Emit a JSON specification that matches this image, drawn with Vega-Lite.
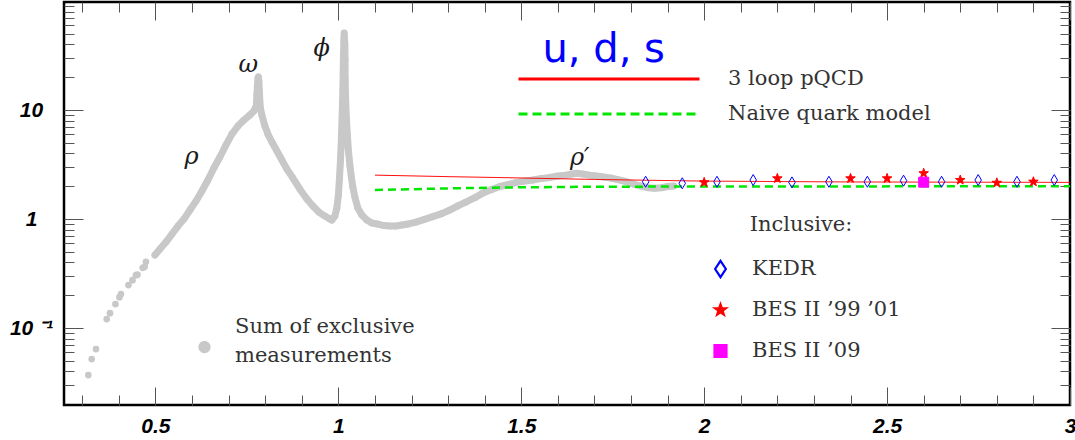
{
  "$schema": "https://vega.github.io/schema/vega-lite/v6.json",
  "width": 1006,
  "height": 403,
  "autosize": {"type": "none"},
  "padding": {"left": 64, "top": 2, "right": 5, "bottom": 35},
  "background": "white",
  "config": {
    "view": {"stroke": "black", "strokeWidth": 2.5},
    "style": {"guide-label": {"lineHeight": 29}}
  },
  "datasets": {
    "excl": [
      {"E":0.3164,"R":0.0371},{"E":0.3257,"R":0.052},{"E":0.3374,"R":0.0642},{"E":0.3667,"R":0.121},
      {"E":0.3757,"R":0.137},{"E":0.3907,"R":0.166},{"E":0.4016,"R":0.192},{"E":0.4057,"R":0.205},
      {"E":0.4262,"R":0.248},{"E":0.4372,"R":0.275},{"E":0.4467,"R":0.306},{"E":0.4508,"R":0.309},
      {"E":0.465,"R":0.357},{"E":0.4705,"R":0.365},{"E":0.474,"R":0.406},{"E":0.4986,"R":0.468},
      {"E":0.5123,"R":0.531},{"E":0.5287,"R":0.615},{"E":0.5451,"R":0.728},{"E":0.5615,"R":0.863},
      {"E":0.5779,"R":1.0},{"E":0.5943,"R":1.21},{"E":0.6107,"R":1.46},{"E":0.627,"R":1.81},
      {"E":0.6434,"R":2.28},{"E":0.6598,"R":2.94},{"E":0.6762,"R":3.71},{"E":0.6926,"R":4.77},
      {"E":0.709,"R":6.02},{"E":0.7254,"R":7.13},{"E":0.7418,"R":8.09},{"E":0.7582,"R":9.0},
      {"E":0.7691,"R":9.79},{"E":0.776,"R":11.1},{"E":0.7773,"R":13.7},{"E":0.7787,"R":16.9},
      {"E":0.7801,"R":19.7},{"E":0.7814,"R":20.1},{"E":0.7828,"R":18.1},{"E":0.7842,"R":14.6},
      {"E":0.7855,"R":11.8},{"E":0.7869,"R":10.4},{"E":0.791,"R":9.0},{"E":0.7992,"R":7.13},
      {"E":0.8074,"R":6.02},{"E":0.8183,"R":5.09},{"E":0.832,"R":4.21},{"E":0.8456,"R":3.48},
      {"E":0.8593,"R":2.87},{"E":0.8757,"R":2.38},{"E":0.8948,"R":1.88},{"E":0.9139,"R":1.53},
      {"E":0.9303,"R":1.32},{"E":0.9467,"R":1.16},{"E":0.9631,"R":1.065},{"E":0.9768,"R":1.0},
      {"E":0.9822,"R":0.979},{"E":0.9904,"R":1.065},{"E":0.9959,"R":1.26},{"E":1.0,"R":1.66},
      {"E":1.0027,"R":2.28},{"E":1.0055,"R":3.33},{"E":1.0082,"R":5.31},{"E":1.0104,"R":9.0},
      {"E":1.0123,"R":15.3},{"E":1.0137,"R":28.7},{"E":1.015,"R":43.9},{"E":1.0159,"R":50.8},
      {"E":1.0178,"R":39.5},{"E":1.0183,"R":28.7},{"E":1.0186,"R":18.8},{"E":1.0199,"R":12.4},
      {"E":1.0219,"R":8.45},{"E":1.0246,"R":5.9},{"E":1.0273,"R":4.3},{"E":1.0314,"R":3.13},
      {"E":1.0355,"R":2.43},{"E":1.0396,"R":1.97},{"E":1.0451,"R":1.59},{"E":1.0533,"R":1.26},
      {"E":1.0642,"R":1.088},{"E":1.0779,"R":0.979},{"E":1.0915,"R":0.919},{"E":1.1079,"R":0.9},
      {"E":1.1243,"R":0.872},{"E":1.1407,"R":0.863},{"E":1.1571,"R":0.863},{"E":1.1735,"R":0.881},
      {"E":1.1899,"R":0.9},{"E":1.2117,"R":0.939},{"E":1.2336,"R":0.989},{"E":1.2582,"R":1.054},
      {"E":1.2828,"R":1.123},{"E":1.3046,"R":1.21},{"E":1.3265,"R":1.32},{"E":1.3484,"R":1.43},
      {"E":1.373,"R":1.57},{"E":1.3948,"R":1.73},{"E":1.4194,"R":1.87},{"E":1.4413,"R":1.99},
      {"E":1.4631,"R":2.07},{"E":1.485,"R":2.16},{"E":1.5096,"R":2.23},{"E":1.5314,"R":2.28},
      {"E":1.5533,"R":2.35},{"E":1.5779,"R":2.41},{"E":1.5997,"R":2.48},{"E":1.6216,"R":2.53},
      {"E":1.638,"R":2.59},{"E":1.6516,"R":2.63},{"E":1.668,"R":2.59},{"E":1.6872,"R":2.53},
      {"E":1.7063,"R":2.48},{"E":1.7254,"R":2.43},{"E":1.7445,"R":2.38},{"E":1.7637,"R":2.3},
      {"E":1.7855,"R":2.21},{"E":1.8074,"R":2.09},{"E":1.8265,"R":2.01},{"E":1.8456,"R":1.94},
      {"E":1.8648,"R":1.92},{"E":1.8839,"R":1.94},{"E":1.9003,"R":1.99},{"E":1.9167,"R":2.01}
    ],
    "theory": [
      {"model":"3 loop pQCD","E":1.1,"R":2.53},{"model":"3 loop pQCD","E":1.3,"R":2.45},
      {"model":"3 loop pQCD","E":1.45,"R":2.4},{"model":"3 loop pQCD","E":1.7,"R":2.31},
      {"model":"3 loop pQCD","E":2.0,"R":2.23},{"model":"3 loop pQCD","E":2.4,"R":2.19},
      {"model":"3 loop pQCD","E":3.0,"R":2.17},
      {"model":"Naive quark model","E":1.1,"R":1.85},{"model":"Naive quark model","E":1.3,"R":1.91},
      {"model":"Naive quark model","E":1.45,"R":1.95},{"model":"Naive quark model","E":1.7,"R":1.98},
      {"model":"Naive quark model","E":2.0,"R":1.99},{"model":"Naive quark model","E":3.0,"R":2.0}
    ],
    "incl": [
      {"exp":"KEDR","E":1.84,"R":2.2},{"exp":"KEDR","E":1.94,"R":2.13},{"exp":"KEDR","E":2.035,"R":2.2},
      {"exp":"KEDR","E":2.134,"R":2.28},{"exp":"KEDR","E":2.24,"R":2.17},{"exp":"KEDR","E":2.341,"R":2.2},
      {"exp":"KEDR","E":2.446,"R":2.2},{"exp":"KEDR","E":2.545,"R":2.25},{"exp":"KEDR","E":2.649,"R":2.2},
      {"exp":"KEDR","E":2.749,"R":2.28},{"exp":"KEDR","E":2.855,"R":2.2},{"exp":"KEDR","E":2.957,"R":2.28},
      {"exp":"BES II ’99 ’01","E":2.0,"R":2.17},{"exp":"BES II ’99 ’01","E":2.2,"R":2.36},
      {"exp":"BES II ’99 ’01","E":2.4,"R":2.36},{"exp":"BES II ’99 ’01","E":2.5,"R":2.36},
      {"exp":"BES II ’99 ’01","E":2.6,"R":2.63},{"exp":"BES II ’99 ’01","E":2.7,"R":2.28},
      {"exp":"BES II ’99 ’01","E":2.8,"R":2.15},{"exp":"BES II ’99 ’01","E":2.9,"R":2.2},
      {"exp":"BES II ’09","E":2.6,"R":2.18}
    ],
    "greek": [
      {"label":"ρ","E":0.5989,"R":3.73},
      {"label":"ω","E":0.7536,"R":25.9},
      {"label":"ϕ","E":0.9541,"R":36.0},
      {"label":"ρ′","E":1.6598,"R":3.63}
    ]
  },
  "resolve": {
    "scale": {"fill": "independent", "stroke": "independent", "shape": "independent", "strokeDash": "independent", "strokeWidth": "independent"},
    "axis": {"x": "independent", "y": "independent"}
  },
  "layer": [
    {
      "data": {"name": "excl"},
      "transform": [{"filter": "datum.E >= 0.49"}],
      "mark": {"type": "line", "stroke": "#c8c8c8", "strokeWidth": 7, "strokeJoin": "round", "strokeCap": "round"},
      "encoding": {
        "x": {"field": "E", "type": "quantitative", "scale": {"type": "linear", "domain": [0.25, 3.0], "nice": false, "zero": false},
          "axis": {"orient": "bottom", "values": [0.5, 1, 1.5, 2, 2.5, 3], "format": "~g", "ticks": false, "tickSize": 0, "domain": false, "grid": false, "title": null,
            "labelFont": "Liberation Sans", "labelFontSize": 21, "labelFontWeight": "bold", "labelFontStyle": "italic", "labelColor": "#000", "labelPadding": 10, "labelFlush": false, "labelOverlap": false}},
        "y": {"field": "R", "type": "quantitative", "scale": {"type": "log", "domain": [0.0197, 98], "nice": false, "zero": false},
          "axis": {"orient": "left", "values": [0.1, 1, 10], "labelExpr": "datum.value == 0.1 ? '10 ⁻¹' : datum.value == 1 ? '1' : '10'", "ticks": false, "tickSize": 0, "domain": false, "grid": false, "title": null,
            "labelFont": "Liberation Sans", "labelFontSize": 21, "labelFontWeight": "bold", "labelFontStyle": "italic", "labelColor": "#000", "labelAlign": "center", "labelBaseline": "middle", "labelPadding": 33, "labelFlush": false, "labelOverlap": false}}
      }
    },
    {
      "data": {"name": "excl"},
      "mark": {"type": "circle", "size": 45, "opacity": 1},
      "encoding": {
        "x": {"field": "E", "type": "quantitative",
          "axis": {"orient": "bottom", "values": [0.5, 1, 1.5, 2, 2.5, 3], "labels": false, "domain": false, "grid": false, "title": null, "tickSize": -18, "tickColor": "#555", "tickWidth": 1}},
        "y": {"field": "R", "type": "quantitative",
          "axis": {"orient": "left", "values": [0.1, 1, 10], "labels": false, "domain": false, "grid": false, "title": null, "tickSize": -19, "tickColor": "#555", "tickWidth": 1}},
        "fill": {"datum": "Sum of exclusive measurements", "type": "nominal", "scale": {"range": ["#c8c8c8"]},
          "legend": {"orient": "none", "legendX": 130, "legendY": 315, "title": null, "padding": 0, "symbolType": "M-1,3.27A1,1 0 1,0 1,3.27A1,1 0 1,0 -1,3.27Z", "symbolSize": 150, "symbolStrokeWidth": 0, "clipHeight": 20,
            "labelExpr": "['Sum of exclusive', 'measurements']", "labelFont": "DejaVu Serif", "labelFontSize": 21, "labelColor": "#333", "labelOffset": 20, "labelLimit": 400}}
      }
    },
    {
      "data": {"name": "theory"},
      "mark": {"type": "line"},
      "encoding": {
        "x": {"field": "E", "type": "quantitative",
          "axis": {"orient": "bottom", "values": [0.3,0.4,0.6,0.7,0.8,0.9,1.1,1.2,1.3,1.4,1.6,1.7,1.8,1.9,2.1,2.2,2.3,2.4,2.6,2.7,2.8,2.9], "labels": false, "domain": false, "grid": false, "title": null, "tickSize": -10, "tickColor": "#555", "tickWidth": 1}},
        "y": {"field": "R", "type": "quantitative",
          "axis": {"orient": "left", "values": [0.03,0.04,0.05,0.06,0.07,0.08,0.09,0.2,0.3,0.4,0.5,0.6,0.7,0.8,0.9,2,3,4,5,6,7,8,9,20,30,40,50,60,70,80,90], "labels": false, "domain": false, "grid": false, "title": null, "tickSize": -10, "tickColor": "#555", "tickWidth": 1}},
        "stroke": {"field": "model", "type": "nominal", "scale": {"domain": ["3 loop pQCD", "Naive quark model"], "range": ["#ff0000", "#00e600"]}, "legend": null},
        "strokeDash": {"field": "model", "type": "nominal", "scale": {"domain": ["3 loop pQCD", "Naive quark model"], "range": [[1, 0], [8, 5]]}, "legend": null},
        "strokeWidth": {"field": "model", "type": "ordinal", "scale": {"domain": ["3 loop pQCD", "Naive quark model"], "range": [1, 2.5]}, "legend": null}
      }
    },
    {
      "data": {"name": "theory"},
      "mark": {"type": "line", "strokeWidth": 3, "opacity": 0},
      "encoding": {
        "x": {"field": "E", "type": "quantitative", "axis": null},
        "y": {"field": "R", "type": "quantitative", "axis": null},
        "stroke": {"field": "model", "type": "nominal", "scale": {"domain": ["3 loop pQCD", "Naive quark model"], "range": ["#ff0000", "#00e600"]},
          "legend": {"orient": "none", "legendX": 453, "legendY": 67, "title": null, "padding": 0, "symbolType": "stroke", "symbolSize": 32761, "symbolStrokeWidth": 3, "symbolOpacity": 1, "clipHeight": 20, "rowPadding": 14,
            "labelFont": "DejaVu Serif", "labelFontSize": 21, "labelColor": "#333", "labelOffset": 27, "labelLimit": 400}},
        "strokeDash": {"field": "model", "type": "nominal", "scale": {"domain": ["3 loop pQCD", "Naive quark model"], "range": [[1, 0], [9, 5]]},
          "legend": {"orient": "none", "legendX": 453, "legendY": 67, "title": null, "padding": 0, "symbolType": "stroke", "symbolSize": 32761, "symbolStrokeWidth": 3, "symbolOpacity": 1, "clipHeight": 20, "rowPadding": 14,
            "labelFont": "DejaVu Serif", "labelFontSize": 21, "labelColor": "#333", "labelOffset": 27, "labelLimit": 400}}
      }
    },
    {
      "data": {"name": "incl"},
      "mark": {"type": "point", "size": 100, "strokeWidth": 1, "opacity": 1},
      "encoding": {
        "x": {"field": "E", "type": "quantitative",
          "axis": {"orient": "top", "values": [0.5, 1, 1.5, 2, 2.5, 3], "labels": false, "domain": false, "grid": false, "title": null, "tickSize": -18, "tickColor": "#555", "tickWidth": 1}},
        "y": {"field": "R", "type": "quantitative",
          "axis": {"orient": "right", "values": [0.1, 1, 10], "labels": false, "domain": false, "grid": false, "title": null, "tickSize": -19, "tickColor": "#555", "tickWidth": 1}},
        "shape": {"field": "exp", "type": "nominal",
          "scale": {"domain": ["KEDR", "BES II ’99 ’01", "BES II ’09"],
            "range": ["M0,-1.1L0.65,0L0,1.1L-0.65,0Z", "M0,-1L0.235,-0.324L0.951,-0.309L0.38,0.124L0.588,0.809L0,0.4L-0.588,0.809L-0.38,0.124L-0.951,-0.309L-0.235,-0.324Z", "M-1,-1H1V1H-1Z"]},
          "legend": null},
        "fill": {"field": "exp", "type": "nominal", "scale": {"domain": ["KEDR", "BES II ’99 ’01", "BES II ’09"], "range": ["transparent", "#ff0000", "#ff00ff"]}, "legend": null},
        "stroke": {"field": "exp", "type": "nominal", "scale": {"domain": ["KEDR", "BES II ’99 ’01", "BES II ’09"], "range": ["#0000ff", "#ff0000", "#ff00ff"]}, "legend": null}
      }
    },
    {
      "data": {"name": "incl"},
      "mark": {"type": "point", "size": 160, "strokeWidth": 2.2, "opacity": 0},
      "encoding": {
        "x": {"field": "E", "type": "quantitative", "axis": null},
        "y": {"field": "R", "type": "quantitative", "axis": null},
        "shape": {"field": "exp", "type": "nominal",
          "scale": {"domain": ["KEDR", "BES II ’99 ’01", "BES II ’09"],
            "range": ["M0,-1.3L0.85,0L0,1.3L-0.85,0Z", "M0,-0.9L0.212,-0.292L0.856,-0.278L0.342,0.112L0.529,0.728L0,0.36L-0.529,0.728L-0.342,0.112L-0.856,-0.278L-0.212,-0.292Z", "M-0.95,-0.95H0.95V0.95H-0.95Z"]},
          "legend": {"orient": "none", "legendX": 646, "legendY": 257, "title": null, "padding": 0, "symbolSize": 160, "symbolStrokeWidth": 2.2, "symbolOpacity": 1, "clipHeight": 20, "rowPadding": 20,
            "labelFont": "DejaVu Serif", "labelFontSize": 21, "labelColor": "#333", "labelOffset": 21, "labelLimit": 400}},
        "fill": {"field": "exp", "type": "nominal", "scale": {"domain": ["KEDR", "BES II ’99 ’01", "BES II ’09"], "range": ["transparent", "#ff0000", "#ff00ff"]},
          "legend": {"orient": "none", "legendX": 646, "legendY": 257, "title": null, "padding": 0, "symbolSize": 160, "symbolStrokeWidth": 2.2, "symbolOpacity": 1, "clipHeight": 20, "rowPadding": 20,
            "labelFont": "DejaVu Serif", "labelFontSize": 21, "labelColor": "#333", "labelOffset": 21, "labelLimit": 400}},
        "stroke": {"field": "exp", "type": "nominal", "scale": {"domain": ["KEDR", "BES II ’99 ’01", "BES II ’09"], "range": ["#0000ff", "#ff0000", "#ff00ff"]},
          "legend": {"orient": "none", "legendX": 646, "legendY": 257, "title": null, "padding": 0, "symbolSize": 160, "symbolStrokeWidth": 2.2, "symbolOpacity": 1, "clipHeight": 20, "rowPadding": 20,
            "labelFont": "DejaVu Serif", "labelFontSize": 21, "labelColor": "#333", "labelOffset": 21, "labelLimit": 400}}
      }
    },
    {
      "data": {"name": "greek"},
      "mark": {"type": "text", "font": "DejaVu Serif", "fontStyle": "italic", "fontSize": 24, "color": "#1a1a1a", "align": "center", "baseline": "middle"},
      "encoding": {
        "x": {"field": "E", "type": "quantitative",
          "axis": {"orient": "top", "values": [0.3,0.4,0.6,0.7,0.8,0.9,1.1,1.2,1.3,1.4,1.6,1.7,1.8,1.9,2.1,2.2,2.3,2.4,2.6,2.7,2.8,2.9], "labels": false, "domain": false, "grid": false, "title": null, "tickSize": -10, "tickColor": "#555", "tickWidth": 1}},
        "y": {"field": "R", "type": "quantitative",
          "axis": {"orient": "right", "values": [0.03,0.04,0.05,0.06,0.07,0.08,0.09,0.2,0.3,0.4,0.5,0.6,0.7,0.8,0.9,2,3,4,5,6,7,8,9,20,30,40,50,60,70,80,90], "labels": false, "domain": false, "grid": false, "title": null, "tickSize": -10, "tickColor": "#555", "tickWidth": 1}},
        "text": {"field": "label", "type": "nominal"}
      }
    },
    {
      "data": {"values": [{"label": "u, d, s", "E": 1.7254, "R": 27.7}]},
      "mark": {"type": "text", "font": "DejaVu Sans", "fontSize": 40, "color": "#0000ff", "align": "center", "baseline": "alphabetic"},
      "encoding": {
        "x": {"field": "E", "type": "quantitative", "axis": null},
        "y": {"field": "R", "type": "quantitative", "axis": null},
        "text": {"field": "label", "type": "nominal"}
      }
    },
    {
      "data": {"values": [{"label": "Inclusive:", "E": 2.1243, "R": 0.881}]},
      "mark": {"type": "text", "font": "DejaVu Serif", "fontSize": 21, "color": "#333", "align": "left", "baseline": "middle"},
      "encoding": {
        "x": {"field": "E", "type": "quantitative", "axis": null},
        "y": {"field": "R", "type": "quantitative", "axis": null},
        "text": {"field": "label", "type": "nominal"}
      }
    }
  ]
}
